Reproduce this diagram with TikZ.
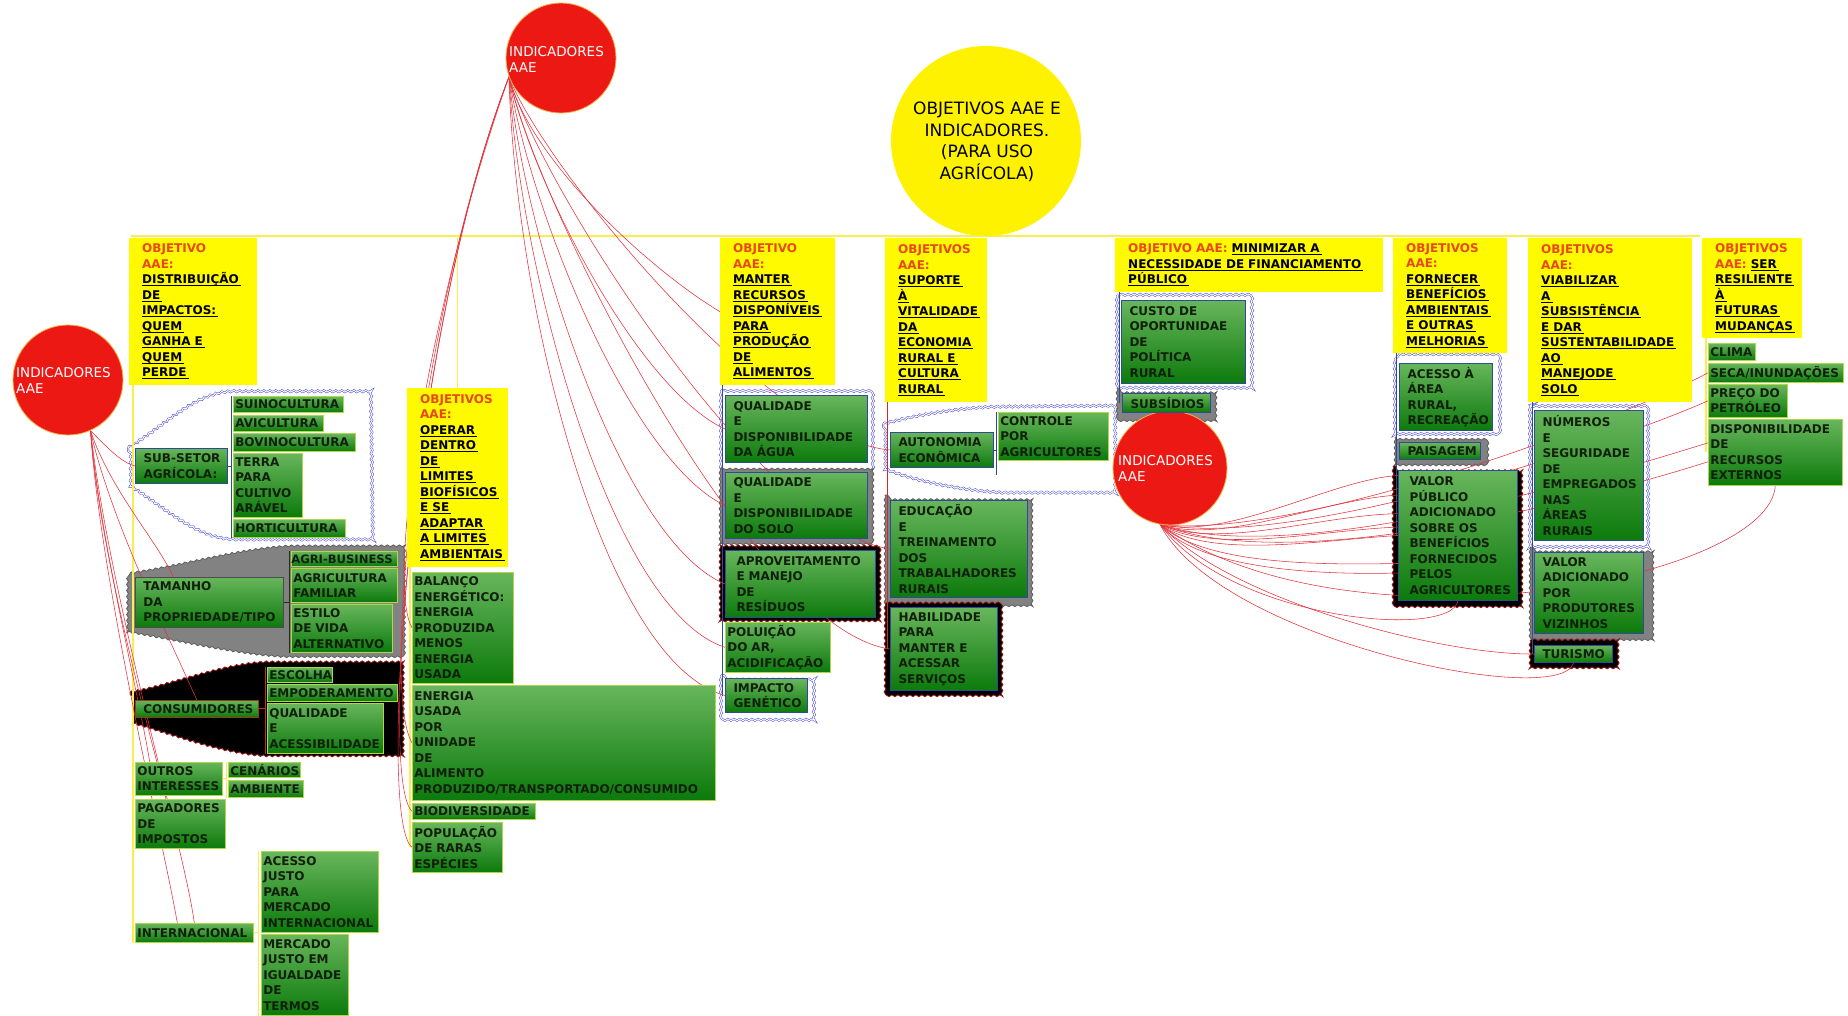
\documentclass[tikz,border=0pt]{standalone}
\usepackage{fontspec}
\setmainfont{DejaVu Sans}
\usetikzlibrary{decorations.pathmorphing}
\pgfdeclarelayer{back}
\pgfdeclarelayer{mid}
\pgfsetlayers{back,mid,main}

\definecolor{gtop}{RGB}{104,182,92}
\definecolor{gbot}{RGB}{12,122,12}
\definecolor{gtxt}{RGB}{16,32,10}
\definecolor{gedge}{RGB}{175,215,70}
\definecolor{bedge}{RGB}{45,75,150}
\definecolor{yfill}{RGB}{255,250,0}
\definecolor{objred}{RGB}{232,72,22}
\definecolor{linkred}{RGB}{228,50,60}
\definecolor{ballred}{RGB}{236,24,20}
\definecolor{goalyel}{RGB}{255,242,0}
\definecolor{treeyel}{RGB}{248,238,80}
\definecolor{calblue}{RGB}{70,70,215}
\definecolor{calgrey}{RGB}{130,130,130}

\newcommand\lab{\bfseries\fontsize{12}{15.5}\selectfont}
\newcommand\rd[1]{\leavevmode\textcolor{objred}{#1}}
\newcommand\ul[1]{\leavevmode\setbox0=\hbox{#1\kern2pt}\rlap{\rule[-2.4pt]{\wd0}{1pt}}\box0}

% generic box: pad, style, name, x1, y1, x2, y2, text
\newcommand\bx[8]{%
  \pgfmathsetmacro\bw{#6-#4}\pgfmathsetmacro\bh{#7-#5}%
  \node[#2,text width=\bw pt,minimum height=\bh pt] (#3) at (#4,#5) {\leftskip=#1pt\relax\leavevmode #8\par};}
\newcommand\gbx[7][]{\bx{2}{gbox,#1}{#2}{#3}{#4}{#5}{#6}{#7}}
\newcommand\gbp[7][]{\bx{8}{gbox,#1}{#2}{#3}{#4}{#5}{#6}{#7}}
\newcommand\ybx[6]{\bx{13}{ybox}{#1}{#2}{#3}{#4}{#5}{#6}}
\newcommand\lnk[4]{\draw[lnk] (#1) .. controls (#2) and (#3) .. (#4);}

\tikzset{
  gbox/.style={anchor=north west, inner xsep=0pt, inner ysep=0pt, draw=gedge,
    line width=0.6pt, top color=gtop, bottom color=gbot, text=gtxt, font=\lab, align=left},
  bb/.style={draw=bedge, line width=1pt},
  ybox/.style={anchor=north west, inner xsep=0pt, inner ysep=0pt, fill=yfill,
    text=black, font=\lab, align=left},
  ball/.style={circle, inner sep=0pt, minimum size=110pt, fill=ballred,
    draw={rgb,255:red,250;green,175;blue,70}, line width=0.8pt},
  balltxt/.style={anchor=north west, inner sep=0pt, text=white, align=left,
    font=\fontsize{13.5}{16.5}\selectfont},
  wavy/.style={decorate, decoration={snake, segment length=6pt, amplitude=0.9pt}},
  cblue/.style={wavy, draw=calblue, line width=0.5pt, double=white, double distance=1pt},
  cgrey/.style={wavy, draw={rgb,255:red,95;green,95;blue,95}, fill=calgrey, line width=0.8pt},
  cblack/.style={wavy, draw={rgb,255:red,150;green,25;blue,25}, fill=black, line width=0.8pt},
  ytree/.style={draw=treeyel, line width=1.3pt},
  btree/.style={draw=bedge, line width=1pt},
  rtree/.style={draw={rgb,255:red,200;green,45;blue,45}, line width=1pt},
  ktree/.style={draw={rgb,255:red,40;green,40;blue,40}, line width=1pt},
  lnk/.style={draw=linkred, line width=0.55pt}
}

\begin{document}
\begin{tikzpicture}[x=1pt,y=-1pt]
\useasboundingbox (0,0) rectangle (1848,1016);

% ---------- central topic and indicator balls ----------
\node[circle, inner sep=0pt, minimum size=190pt, fill=goalyel] (goal) at (986,141) {};
\node[align=center, inner sep=0pt, font=\fontsize{17}{21.5}\selectfont] (goalt) at (987,142)
  {OBJETIVOS AAE E\\INDICADORES.\\(PARA USO\\AGRÍCOLA)};

\node[ball] (indA) at (561,58) {};
\node[balltxt] (indAt) at (509,46) {INDICADORES\\AAE};
\node[ball] (indL) at (68,380) {};
\node[balltxt] (indLt) at (16,367) {INDICADORES\\AAE};
\node[ball, minimum size=114pt] (indR) at (1170,468) {};
\node[balltxt] (indRt) at (1118,455) {INDICADORES\\AAE};

% ---------- objectives ----------
\ybx{obj1}{129}{238}{257}{385}{\rd{OBJETIVO}\\\rd{AAE:}\\\ul{DISTRIBUIÇÃO}\\\ul{DE}\\\ul{IMPACTOS:}\\\ul{QUEM}\\\ul{GANHA E}\\\ul{QUEM}\\\ul{PERDE}}
\ybx{obj2}{407}{388}{508}{567}{\rd{OBJETIVOS}\\\rd{AAE:}\\\ul{OPERAR}\\\ul{DENTRO}\\\ul{DE}\\\ul{LIMITES}\\\ul{BIOFÍSICOS}\\\ul{E SE}\\\ul{ADAPTAR}\\\ul{A LIMITES}\\\ul{AMBIENTAIS}}
\ybx{obj3}{720}{238}{835}{385}{\rd{OBJETIVO}\\\rd{AAE:}\\\ul{MANTER}\\\ul{RECURSOS}\\\ul{DISPONÍVEIS}\\\ul{PARA}\\\ul{PRODUÇÃO}\\\ul{DE}\\\ul{ALIMENTOS}}
\ybx{obj4}{885}{238}{987}{402}{\rd{OBJETIVOS}\\\rd{AAE:}\\\ul{SUPORTE}\\\ul{À}\\\ul{VITALIDADE}\\\ul{DA}\\\ul{ECONOMIA}\\\ul{RURAL E}\\\ul{CULTURA}\\\ul{RURAL}}
\ybx{obj5}{1115}{238}{1383}{292}{\rd{OBJETIVO AAE:} \ul{MINIMIZAR A}\\\ul{NECESSIDADE DE FINANCIAMENTO}\\\ul{PÚBLICO}}
\ybx{obj6}{1393}{238}{1507}{353}{\rd{OBJETIVOS}\\\rd{AAE:}\\\ul{FORNECER}\\\ul{BENEFÍCIOS}\\\ul{AMBIENTAIS}\\\ul{E OUTRAS}\\\ul{MELHORIAS}}
\ybx{obj7}{1528}{238}{1692}{402}{\rd{OBJETIVOS}\\\rd{AAE:}\\\ul{VIABILIZAR}\\\ul{A}\\\ul{SUBSISTÊNCIA}\\\ul{E DAR}\\\ul{SUSTENTABILIDADE}\\\ul{AO}\\\ul{MANEJODE}\\\ul{SOLO}}
\ybx{obj8}{1702}{238}{1802}{338}{\rd{OBJETIVOS}\\\rd{AAE:} \ul{SER}\\\ul{RESILIENTE}\\\ul{À}\\\ul{FUTURAS}\\\ul{MUDANÇAS}}

% ---------- distribution of impacts ----------
\gbp[bb]{subsetor}{135}{448}{227}{483}{SUB-SETOR\\AGRÍCOLA:}
\gbx{suino}{233}{396}{343}{412}{SUINOCULTURA}
\gbx{avi}{233}{415}{323}{431}{AVICULTURA}
\gbx{bovino}{233}{433}{355}{451}{BOVINOCULTURA}
\gbx{terra}{233}{453}{302}{517}{TERRA\\PARA\\CULTIVO\\ARÁVEL}
\gbx{horti}{233}{519}{345}{537}{HORTICULTURA}
\gbp[draw=black!70]{tamanho}{135}{577}{283}{627}{TAMANHO\\DA\\PROPRIEDADE/TIPO}
\bx{1}{gbox}{agribus}{291}{551}{397}{566}{\mbox{\kern-1pt\fontsize{11.6}{15.5}\selectfont AGRI-BUSINESS}}
\gbx{agrifam}{291}{568}{397}{602}{AGRICULTURA\\FAMILIAR}
\gbx{estilo}{291}{604}{392}{652}{ESTILO\\DE VIDA\\ALTERNATIVO}
\gbp[draw={rgb,255:red,150;green,60;blue,20}]{consum}{135}{700}{258}{717}{CONSUMIDORES}
\gbx{escolha}{267}{667}{332}{682}{ESCOLHA}
\gbx{empod}{267}{684}{397}{701}{EMPODERAMENTO}
\gbx{qualac}{267}{703}{383}{753}{QUALIDADE\\E\\ACESSIBILIDADE}
\gbx{outros}{135}{762}{222}{795}{OUTROS\\INTERESSES}
\gbx{cenarios}{228}{762}{300}{777}{CENÁRIOS}
\gbx{ambiente}{228}{780}{303}{797}{AMBIENTE}
\gbx{pagadores}{135}{799}{225}{848}{PAGADORES\\DE\\IMPOSTOS}
\gbx{acessoj}{261}{851}{378}{932}{ACESSO\\JUSTO\\PARA\\MERCADO\\INTERNACIONAL}
\gbx{intern}{135}{923}{253}{942}{INTERNACIONAL}
\gbx{mercadoj}{261}{934}{348}{1015}{MERCADO\\JUSTO EM\\IGUALDADE\\DE\\TERMOS}

% ---------- biophysical limits ----------
\gbx{balanco}{412}{572}{513}{683}{BALANÇO\\ENERGÉTICO:\\ENERGIA\\PRODUZIDA\\MENOS\\ENERGIA\\USADA}
\gbx{energia}{412}{685}{715}{800}{ENERGIA\\USADA\\POR\\UNIDADE\\DE\\ALIMENTO\\PRODUZIDO/TRANSPORTADO/CONSUMIDO}
\gbx{biodiv}{412}{803}{535}{819}{BIODIVERSIDADE}
\gbx{popul}{412}{822}{502}{872}{POPULAÇÃO\\DE RARAS\\ESPÉCIES}

% ---------- resources for food production ----------
\gbp[bb]{agua}{725}{395}{867}{462}{QUALIDADE\\E\\DISPONIBILIDADE\\DA ÁGUA}
\gbp[bb]{solo}{725}{472}{867}{538}{QUALIDADE\\E\\DISPONIBILIDADE\\DO SOLO}
\bx{11}{gbox,bb}{aprov}{725}{550}{875}{617}{APROVEITAMENTO\\E MANEJO\\DE\\RESÍDUOS}
\gbx{polu}{725}{622}{830}{672}{POLUIÇÃO\\DO AR,\\ACIDIFICAÇÃO}
\gbp[bb]{impacto}{725}{678}{807}{712}{IMPACTO\\GENÉTICO}

% ---------- rural economy ----------
\gbp[bb]{auton}{890}{432}{993}{467}{AUTONOMIA\\ECONÔMICA}
\gbx{controle}{998}{412}{1108}{460}{CONTROLE\\POR\\AGRICULTORES}
\gbp[bb]{educ}{890}{500}{1027}{597}{EDUCAÇÃO\\E\\TREINAMENTO\\DOS\\TRABALHADORES\\RURAIS}
\gbp[bb]{habil}{890}{607}{997}{690}{HABILIDADE\\PARA\\MANTER E\\ACESSAR\\SERVIÇOS}

% ---------- public funding ----------
\gbp[bb]{custo}{1121}{300}{1245}{383}{CUSTO DE\\OPORTUNIDAE\\DE\\POLÍTICA\\RURAL}
\gbp[bb]{subsid}{1122}{393}{1210}{412}{SUBSÍDIOS}

% ---------- environmental benefits ----------
\gbp[bb]{acesso}{1399}{363}{1492}{430}{ACESSO À\\ÁREA\\RURAL,\\RECREAÇÃO}
\gbp[bb]{paisagem}{1399}{442}{1480}{459}{PAISAGEM}
\bx{11}{gbox,bb}{valorpub}{1398}{470}{1517}{600}{VALOR\\PÚBLICO\\ADICIONADO\\SOBRE OS\\BENEFÍCIOS\\FORNECIDOS\\PELOS\\AGRICULTORES}

% ---------- livelihoods ----------
\gbp[bb]{numeros}{1534}{410}{1643}{540}{NÚMEROS\\E\\SEGURIDADE\\DE\\EMPREGADOS\\NAS\\ÁREAS\\RURAIS}
\gbp[bb]{valoradd}{1534}{552}{1643}{633}{VALOR\\ADICIONADO\\POR\\PRODUTORES\\VIZINHOS}
\gbp[bb]{turismo}{1534}{645}{1612}{662}{TURISMO}

% ---------- resilience ----------
\gbx{clima}{1708}{343}{1755}{360}{CLIMA}
\gbx{seca}{1708}{363}{1843}{382}{SECA/INUNDAÇÕES}
\gbx{preco}{1708}{384}{1787}{417}{PREÇO DO\\PETRÓLEO}
\gbx{dispon}{1708}{419}{1842}{485}{DISPONIBILIDADE\\DE\\RECURSOS\\EXTERNOS}

% ---------- callouts and tree lines ----------
\begin{pgfonlayer}{back}
\fill[white] (0,0) rectangle (1848,1016);
% funnels
\draw[cblue] (128,448) .. controls (165,425) and (195,392) .. (233,392) -- (370,392)
  -- (372,541) -- (233,541) .. controls (195,541) and (165,512) .. (128,488) -- cycle;
\draw[cgrey] (130,573) .. controls (180,566) and (240,548) .. (290,546) -- (405,546)
  -- (405,657) -- (290,657) .. controls (240,655) and (180,640) .. (130,632) -- cycle;
\draw[cblack] (130,692) .. controls (170,685) and (220,664) .. (265,662) -- (403,662)
  -- (403,757) -- (265,757) .. controls (220,755) and (170,735) .. (130,724) -- cycle;
\draw[cblue] (883,424) .. controls (920,414) and (960,408) .. (998,407) -- (1113,406)
  -- (1113,493) -- (998,493) .. controls (950,490) and (910,480) .. (883,470) -- cycle;
% framed indicators
\draw[cblue]  (721,390) rectangle (873,467);
\draw[cgrey]  (720,468) rectangle (873,543);
\draw[cblack] (720,545) rectangle (880,621);
\draw[cblue]  (721,675) rectangle (815,716);
\draw[cgrey]  (885,495) rectangle (1033,602);
\draw[cblack] (885,603) rectangle (1002,694);
\draw[cblue]  (1117,295) rectangle (1252,386);
\draw[cgrey]  (1117,388) rectangle (1218,417);
\draw[cblue]  (1395,358) rectangle (1500,434);
\draw[cgrey]  (1395,437) rectangle (1488,463);
\draw[cblack] (1393,466) rectangle (1523,604);
\draw[cblue]  (1530,405) rectangle (1652,545);
\draw[cgrey]  (1530,547) rectangle (1652,638);
\draw[cblack] (1530,640) rectangle (1620,668);

% main bus and branches
\coordinate (busL) at (131,236);
\coordinate (busR) at (1700,236);
\draw[ytree] (busL) -- (busR);
\draw[ytree] (goal.south) -- (goal.south |- busL);
\draw[ytree] (obj2.north) -- (obj2.north |- busL);
\draw[ytree] ([xshift=4pt]obj1.south west) -- ([xshift=4pt]obj1.south west |- intern.south);
\draw[ytree] ([xshift=3pt]obj2.south west) -- ([xshift=3pt]obj2.south west |- popul.west);
\draw[btree] ([xshift=2.5pt]obj3.south west) -- ([xshift=2.5pt]obj3.south west |- impacto.west);
\draw[rtree] ([xshift=2pt]obj4.south west) -- ([xshift=2pt]obj4.south west |- habil.west);
\draw[btree] ([xshift=4pt]obj5.south west) -- ([xshift=4pt]obj5.south west |- subsid.west);
\draw[btree] ([xshift=3pt]obj6.south west) -- ([xshift=3pt]obj6.south west |- valorpub.west);
\draw[btree] ([xshift=4pt]obj7.south west) -- ([xshift=4pt]obj7.south west |- turismo.west);
\draw[ytree] ([xshift=4pt]obj8.south west) -- ([xshift=4pt]obj8.south west |- dispon.west);
% sub-branches
\draw[btree] (subsetor.east) -- ([xshift=-2pt]subsetor.east -| terra.west);
\draw[btree] ([xshift=-2pt]suino.north west) -- ([xshift=-2pt]horti.south west);
\draw[ktree] (tamanho.east) -- ([xshift=-2pt]tamanho.east -| agrifam.west);
\draw[ktree] ([xshift=-2pt]agribus.north west) -- ([xshift=-2pt]estilo.south west);
\draw[rtree] (consum.east) -- ([xshift=-2pt]consum.east -| qualac.west);
\draw[rtree] ([xshift=-2pt]escolha.north west) -- ([xshift=-2pt]qualac.south west);
\draw[btree] (auton.east) -- ([xshift=-2pt]auton.east -| controle.west);
\draw[btree] ([xshift=-2pt]controle.north west) -- ([xshift=-2pt,yshift=-14pt]controle.south west);
\draw[ytree,line width=0.8pt] (outros.east) -- ([xshift=-2pt]outros.east -| cenarios.west);
\draw[ytree,line width=0.8pt] ([xshift=-2pt]cenarios.north west) -- ([xshift=-2pt]ambiente.south west);
\draw[ytree,line width=0.8pt] (intern.east) -- ([xshift=-3pt]intern.east -| acessoj.west);
\draw[ytree,line width=0.8pt] ([xshift=-3pt]acessoj.north west) -- ([xshift=-3pt]mercadoj.south west);
\end{pgfonlayer}

% ---------- indicator relations ----------
\begin{pgfonlayer}{mid}
\lnk{indA.200}{530,160}{650,270}{obj3.west}
\lnk{indA.200}{535,190}{640,390}{agua.west}
\lnk{indA.200}{530,210}{630,460}{solo.west}
\lnk{indA.200}{525,240}{620,540}{aprov.west}
\lnk{indA.200}{520,270}{610,610}{polu.west}
\lnk{indA.200}{515,300}{600,660}{impacto.west}
\lnk{indA.200}{545,170}{770,440}{auton.west}
\lnk{indA.200}{540,185}{760,530}{educ.west}
\lnk{indA.200}{535,200}{750,630}{habil.west}
\lnk{indA.200}{430,300}{385,580}{balanco.west}
\lnk{indA.200}{420,310}{380,690}{energia.west}
\lnk{indA.200}{415,320}{378,780}{biodiv.west}
\lnk{indA.200}{410,330}{376,820}{popul.west}

\lnk{indL.-66}{105,445}{120,462}{subsetor.west}
\lnk{indL.-66}{110,490}{160,545}{tamanho.145}
\lnk{indL.-66}{110,520}{175,650}{consum.north}
\lnk{indL.-66}{100,540}{140,700}{outros.150}
\lnk{indL.-66}{100,560}{155,750}{pagadores.120}
\lnk{indL.-66}{110,600}{185,850}{intern.north}
\lnk{indL.-66}{100,580}{165,850}{intern.150}

\lnk{indR.-100}{1230,540}{1330,480}{valorpub.135}
\lnk{indR.-100}{1225,545}{1320,500}{valorpub.146}
\lnk{indR.-100}{1220,550}{1320,515}{valorpub.160}
\lnk{indR.-100}{1215,555}{1320,530}{valorpub.172}
\lnk{indR.-100}{1210,560}{1320,540}{valorpub.west}
\lnk{indR.-100}{1205,565}{1320,565}{valorpub.205}
\lnk{indR.-100}{1200,570}{1320,575}{valorpub.212}
\lnk{indR.-100}{1230,620}{1450,640}{valorpub.south}
\lnk{indR.-100}{1230,600}{1440,655}{turismo.west}
\lnk{indR.-100}{1220,640}{1560,710}{turismo.south}
\lnk{indR.-100}{1300,540}{1620,420}{seca.west}
\lnk{indR.-100}{1300,550}{1620,440}{preco.west}
\lnk{indR.-100}{1300,570}{1620,470}{dispon.172}
\lnk{indR.-100}{1300,580}{1620,490}{dispon.188}
\lnk{indR.-100}{1350,660}{1770,580}{dispon.south}
\end{pgfonlayer}
\end{tikzpicture}
\end{document}
